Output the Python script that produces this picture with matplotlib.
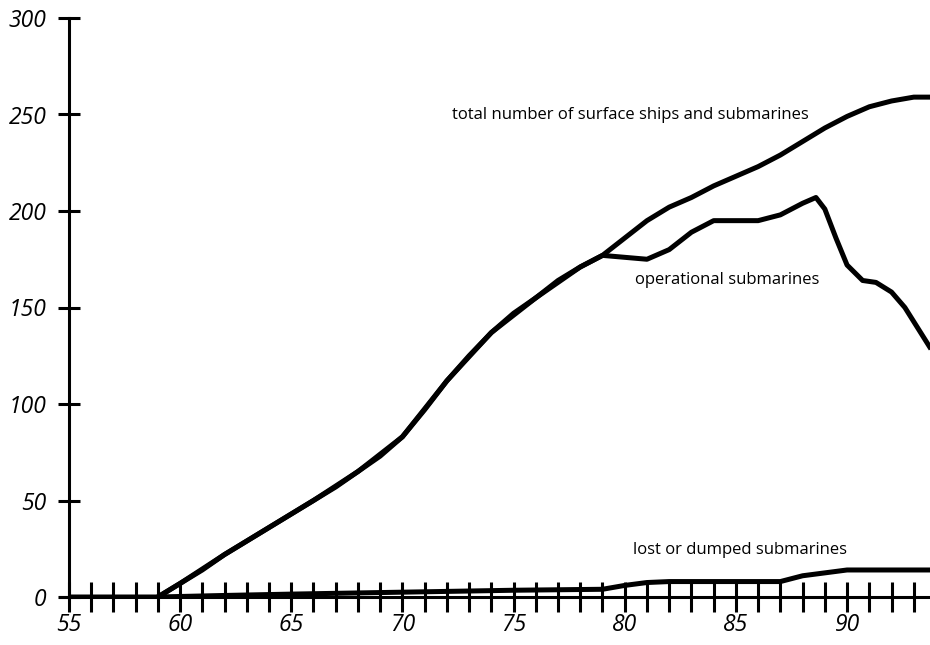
import matplotlib
matplotlib.use("Agg")
import matplotlib.pyplot as plt
from matplotlib.ticker import FixedLocator, FixedFormatter

plt.rcParams['font.family'] = ['Open Sans', 'DejaVu Sans']

# total number of surface ships and submarines
totalYears = [59, 60, 61, 62, 63, 64, 65, 66, 67, 68, 69, 70, 71, 72, 73, 74, 75, 76, 77, 78, 79,
              80, 81, 82, 83, 84, 85, 86, 87, 88, 89, 90, 91, 92, 93, 93.8]
totalValues = [0, 7, 14, 22, 29, 36, 43, 50, 57, 65, 73, 83, 97, 112, 125, 137, 147, 155, 164, 171, 177,
               186, 195, 202, 207, 213, 218, 223, 229, 236, 243, 249, 254, 257, 259, 259]

# operational submarines (same as total until 79)
opYears = [59, 60, 62, 64, 66, 68, 70, 72, 74, 76, 78, 79, 80, 81, 82, 83, 84, 85, 86, 87, 88, 88.6,
           89, 89.5, 90, 90.7, 91.3, 92, 92.6, 93.2, 93.8]
opValues = [0, 7, 22, 36, 50, 65, 83, 112, 137, 155, 171, 177, 176, 175, 180, 189, 195, 195, 195, 198, 204, 207,
            201, 186, 172, 164, 163, 158, 150, 139, 128]

# lost or dumped submarines
lostYears = [55, 59, 62, 65, 70, 75, 79, 80, 81, 82, 87, 88, 89, 90, 93.8]
lostValues = [0, 0, 0.8, 1.5, 2.5, 3.5, 4, 6, 7.5, 8, 8, 11, 12.5, 14, 14]

yTicks = [0, 50, 100, 150, 200, 250, 300]

fig = plt.figure(figsize=(9.3, 6.45), dpi=100)
left = 60 / 930
bottom = 48 / 645
ax = fig.add_axes([left, bottom, 1 - left, (627 - 48) / 645])

ax.plot(totalYears, totalValues, color='black', lw=3.6, solid_capstyle='butt', solid_joinstyle='round')
ax.plot(opYears, opValues, color='black', lw=3.6, solid_capstyle='butt', solid_joinstyle='round')
ax.plot(lostYears, lostValues, color='black', lw=3.6, solid_capstyle='butt', solid_joinstyle='round')

ax.set_xlim(54.6, 93.73)
ax.set_ylim(0, 300)

for side in ['top', 'right']:
    ax.spines[side].set_visible(False)
ax.spines['left'].set_position(('data', 55))
ax.spines['left'].set_linewidth(2.2)
ax.spines['bottom'].set_linewidth(2.2)

xt = list(range(55, 94))
ax.xaxis.set_major_locator(FixedLocator(xt))
ax.xaxis.set_major_formatter(FixedFormatter([str(y) if y % 5 == 0 else '' for y in xt]))
ax.set_yticks(yTicks)
ax.set_yticklabels([str(v) for v in yTicks])

ax.tick_params(axis='x', direction='inout', length=21, width=2.2, pad=1, labelsize=16.5)
ax.tick_params(axis='y', direction='inout', length=16.5, width=2.2, pad=8, labelsize=16.5)
for lab in ax.get_xticklabels() + ax.get_yticklabels():
    lab.set_fontstyle('italic')

# labels placed in pixel coordinates (origin bottom left)
H = 645
ax.text(452, H - 115, 'total number of surface ships and submarines', transform=None, fontsize=12,
        va='center', ha='left')
ax.text(635, H - 280, 'operational submarines', transform=None, fontsize=12, va='center', ha='left')
ax.text(633, H - 550, 'lost or dumped submarines', transform=None, fontsize=12, va='center', ha='left')

fig.savefig('out.png', dpi=100)
